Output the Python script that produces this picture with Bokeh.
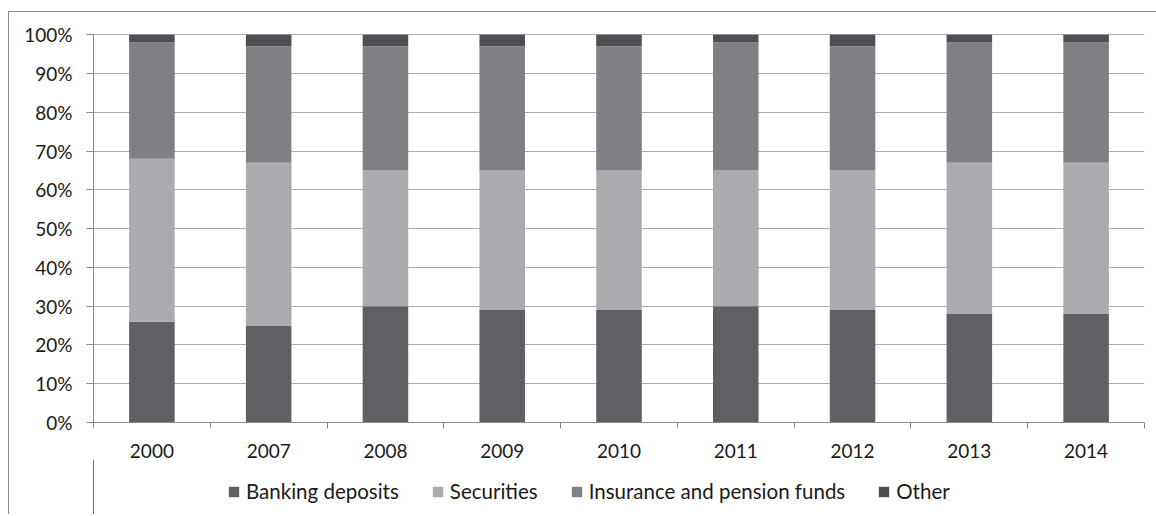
from bokeh.plotting import figure
from bokeh.layouts import column
from bokeh.models import Range1d, FixedTicker, Legend, LegendItem, ColumnDataSource
from bokeh.embed import file_html
from bokeh.resources import INLINE

years = ["2000", "2007", "2008", "2009", "2010", "2011", "2012", "2013", "2014"]
banking = [26, 25, 30, 29, 29, 30, 29, 28, 28]
securities = [42, 42, 35, 36, 36, 35, 36, 39, 39]
insurance = [30, 30, 32, 32, 32, 33, 32, 31, 31]
other = [2, 3, 3, 3, 3, 2, 3, 2, 2]
series_names = ["Banking deposits", "Securities", "Insurance and pension funds", "Other"]
colors = ["#5f6064", "#a9abae", "#7f8084", "#4e4f53"]
y_ticks = [0, 10, 20, 30, 40, 50, 60, 70, 80, 90, 100]

FONT = "Lato"
stack_cols = ["banking", "securities", "insurance", "other"]
n = len(years)
xpos = [i + 0.5 for i in range(n)]
source = ColumnDataSource(dict(x=xpos, banking=banking, securities=securities,
                               insurance=insurance, other=other))

p = figure(width=1147, height=450, frame_width=1051, frame_height=389,
           output_backend="svg", toolbar_location=None,
           x_range=Range1d(0, n), y_range=Range1d(0, 100.3),
           min_border_left=84, min_border_right=12, min_border_top=21, min_border_bottom=0)
p.outline_line_color = None
p.background_fill_color = "white"
p.border_fill_color = "white"

p.vbar_stack(stack_cols, x="x", width=0.39, color=colors, line_color=None, source=source)

# x axis: labels at centres, ticks between categories
p.xaxis.ticker = FixedTicker(ticks=xpos, minor_ticks=list(range(n + 1)))
p.xaxis.major_label_overrides = {x: y for x, y in zip(xpos, years)}
p.xaxis.major_tick_line_color = None
p.xaxis.major_tick_out = 0
p.xaxis.major_tick_in = 0
p.xaxis.minor_tick_line_color = "#8c8c8c"
p.xaxis.minor_tick_out = 6
p.xaxis.minor_tick_in = 0
p.xaxis.axis_line_color = "#8c8c8c"
p.xaxis.axis_line_width = 1
p.xaxis.major_label_standoff = 15
p.xaxis.major_label_text_font = FONT
p.xaxis.major_label_text_font_size = "19px"
p.xaxis.major_label_text_color = "#1a1a1a"
p.xgrid.grid_line_color = None

p.yaxis.ticker = FixedTicker(ticks=y_ticks, minor_ticks=[])
p.yaxis.major_label_overrides = {v: f"{v}%" for v in y_ticks}
p.yaxis.axis_line_color = "#8c8c8c"
p.yaxis.major_tick_line_color = "#8c8c8c"
p.yaxis.major_tick_out = 7
p.yaxis.major_tick_in = 0
p.yaxis.minor_tick_line_color = None
p.yaxis.major_label_standoff = 14
p.yaxis.major_label_text_font = FONT
p.yaxis.major_label_text_font_size = "19px"
p.yaxis.major_label_text_color = "#1a1a1a"
p.ygrid.ticker = FixedTicker(ticks=y_ticks[1:])
p.ygrid.grid_line_color = "#ababab"
p.ygrid.grid_line_width = 1

# legend strip below the chart (its own small figure, keys drawn from hidden copies of the series)
p2 = figure(width=1147, height=54, output_backend="svg", toolbar_location=None,
            x_range=Range1d(100, 101), y_range=Range1d(0, 1),
            x_axis_location=None, y_axis_location=None,
            min_border_left=0, min_border_right=0, min_border_top=0, min_border_bottom=0)
p2.outline_line_color = None
p2.grid.visible = False
p2.border_fill_color = "white"
p2.background_fill_color = "white"
keys = p2.vbar_stack(stack_cols, x="x", width=0.39, color=colors, line_color=None, source=source)

legend = Legend(items=[LegendItem(label=nm, renderers=[r]) for nm, r in zip(series_names, keys)],
                orientation="horizontal", location=(134, 11),
                glyph_width=13, glyph_height=13, label_standoff=6, spacing=32,
                label_text_font=FONT, label_text_font_size="20.5px", label_text_color="#1a1a1a",
                border_line_color=None, background_fill_alpha=0, padding=0, margin=0)
p2.add_layout(legend, "center")

layout = column(p, p2, spacing=0)
layout.styles = {"border-left": "1px solid #8c8c8c", "border-top": "1px solid #8c8c8c",
                 "margin-top": "11px", "margin-left": "8px"}

open("out.html", "w").write(file_html(layout, INLINE))
